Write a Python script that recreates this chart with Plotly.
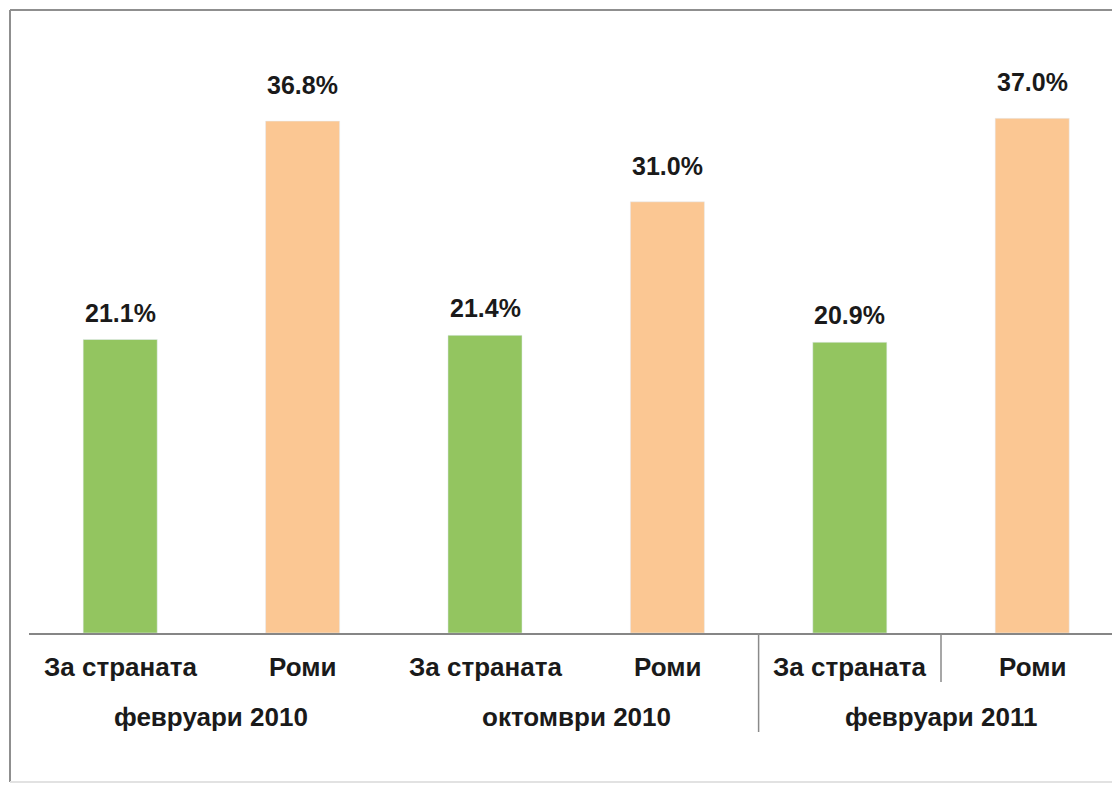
import plotly.graph_objects as go

# ---- data ----
periods = ["февруари 2010", "октомври 2010", "февруари 2011"]
groups = ["За страната", "Роми"]
country_values = [21.1, 21.4, 20.9]
roma_values = [36.8, 31.0, 37.0]

GREEN = "#93C560"
PEACH = "#FBC793"
FONT = "Liberation Sans, Arial, sans-serif"

# layout geometry (pixels)
W, H = 1112, 787
ML, MR, MT, MB = 29, 0, 40, 154
PW, PH = W - ML - MR, H - MT - MB
SLOT = 182.4  # px per category


def px_to_paper_x(px):
    return (px - ML) / PW


def px_to_paper_y(py):
    return (H - MB - py) / PH


x_country = [2 * i for i in range(len(periods))]
x_roma = [2 * i + 1 for i in range(len(periods))]

fig = go.Figure()
fig.add_trace(go.Bar(x=x_country, y=country_values, marker_color=GREEN,
                     width=0.406, hoverinfo="skip", name=groups[0]))
fig.add_trace(go.Bar(x=x_roma, y=roma_values, marker_color=PEACH,
                     width=0.406, hoverinfo="skip", name=groups[1]))

annotations = []
for xs, vals, shift in ((x_country, country_values, 27), (x_roma, roma_values, 36)):
    for x, v in zip(xs, vals):
        annotations.append(dict(x=x, y=v, xref="x", yref="y", text=f"<b>{v:.1f}%</b>",
                                showarrow=False, yanchor="middle", yshift=shift,
                                font=dict(family=FONT, size=25, color="#1a1a1a")))

# category labels (level 1) and period labels (level 2)
for i in range(len(periods)):
    for j, g in enumerate(groups):
        annotations.append(dict(x=2 * i + j, y=px_to_paper_y(667), xref="x", yref="paper",
                                text=f"<b>{g}</b>", showarrow=False, yanchor="middle",
                                font=dict(family=FONT, size=26, color="#1a1a1a")))
    annotations.append(dict(x=2 * i + 0.5, y=px_to_paper_y(717), xref="x", yref="paper",
                            text=f"<b>{periods[i]}</b>", showarrow=False, yanchor="middle",
                            font=dict(family=FONT, size=26, color="#1a1a1a")))

shapes = [
    # frame
    dict(type="line", xref="paper", yref="paper", x0=px_to_paper_x(10), x1=px_to_paper_x(10),
         y0=px_to_paper_y(10), y1=px_to_paper_y(782), line=dict(color="#8F8F8F", width=2)),
    dict(type="line", xref="paper", yref="paper", x0=px_to_paper_x(10), x1=px_to_paper_x(W + 5),
         y0=px_to_paper_y(10), y1=px_to_paper_y(10), line=dict(color="#8F8F8F", width=2)),
    dict(type="line", xref="paper", yref="paper", x0=px_to_paper_x(10), x1=px_to_paper_x(W + 5),
         y0=px_to_paper_y(782), y1=px_to_paper_y(782), line=dict(color="#E2E2E2", width=2)),
    # dividers
    dict(type="line", xref="x", yref="paper", x0=3.5, x1=3.5,
         y0=0, y1=px_to_paper_y(732), line=dict(color="#8A8A8A", width=1.5)),
    dict(type="line", xref="x", yref="paper", x0=4.5, x1=4.5,
         y0=0, y1=px_to_paper_y(682), line=dict(color="#8A8A8A", width=1.5)),
]

fig.update_layout(
    width=W, height=H,
    margin=dict(l=ML, r=MR, t=MT, b=MB, pad=0),
    paper_bgcolor="white", plot_bgcolor="white",
    showlegend=False,
    annotations=annotations,
    shapes=shapes,
    xaxis=dict(range=[-0.5, -0.5 + PW / SLOT], showticklabels=False, showgrid=False,
               zeroline=False, showline=True, linecolor="#868686", linewidth=1.5, ticks=""),
    yaxis=dict(range=[0, PH / 13.91], visible=False, showgrid=False, zeroline=False),
)

fig.write_html("out.html", config={"displayModeBar": False},
               post_script="document.body.style.margin='0';document.body.style.overflow='hidden';")
